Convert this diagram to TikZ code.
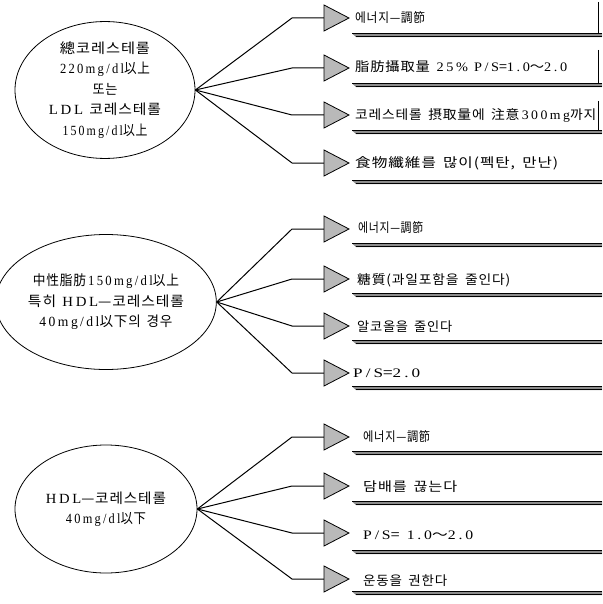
\documentclass[tikz,border=0pt]{standalone}
\usepackage{fontspec}
\usepackage{graphicx}
\setmainfont[LetterSpace=18]{Liberation Serif}
\newfontfamily\kr[LetterSpace=6]{Noto Sans CJK KR}
\usetikzlibrary{shapes.geometric}
\newcommand\gap{\hspace{6pt}}
\newcommand\fit[2]{\resizebox{#1pt}{\height}{#2}}
% #1 ellipse, #2 row name, #3 arrow y, #4 text x, #5 text y, #6 underline y, #7 width, #8 text
\newcommand\myrow[8]{%
  \coordinate (c#2) at (292,#3);
  \coordinate (a#2) at (324,#3);
  \draw[link] (#1.east) -- (c#2) -- (a#2);
  \draw[tri] (a#2) -- ++(0,-13) -- ++(25,13) -- ++(-25,13) -- cycle;
  \node[item] (t#2) at (#4,#5) {\fit{#7}{#8}};
  \fill[black!45] (352,#6-1.6) -- (602,#6-1.6) -- (602,#6+2.1) -- (356,#6+2.1) -- cycle;
  \draw[line width=0.5pt] (352,#6-1.6) -- (602,#6-1.6);
  \draw[line width=1.3pt] (355.5,#6+1.5) -- (602,#6+1.5);
}
\begin{document}
\begin{tikzpicture}[x=1pt,y=-1pt,
  bubble/.style={draw, ellipse, line width=0.8pt, inner sep=0pt, align=center,
    font=\fontsize{14}{20.5}\selectfont},
  item/.style={anchor=west, inner sep=0pt, font=\fontsize{13}{15}\selectfont},
  link/.style={line width=1pt, line join=round},
  tri/.style={draw, fill=gray!55, line width=0.8pt, line join=miter}]
\useasboundingbox (0,0) rectangle (602,604);
\fill[white] (0,0) rectangle (602,604);

% group 1
\node[bubble, minimum width=180pt, minimum height=130pt] (e1) at (105,90)
  {\fit{90}{\kr 總코레스테롤}\\
   \fit{90}{220mg/dl{\kr 以上}}\\
   \fit{25}{\kr 또는}\\
   \fit{112}{LDL\gap{\kr 코레스테롤}}\\
   \fit{85}{150mg/dl{\kr 以上}}};
\myrow{e1}{11}{18}{355}{18}{35}{70}{\kr 에너지—調節}
\myrow{e1}{12}{68}{355}{67}{85}{212}{{\kr 脂肪攝取量}\gap 25\% P/S{\kr =}1.0{\kr ～}2.0}
\myrow{e1}{13}{115}{355}{115}{132}{241}{{\kr 코레스테롤\gap 摂取量에\gap 注意}\,300mg{\kr 까지}}
\myrow{e1}{14}{163}{355}{163}{182}{203}{{\kr 食物纖維를\gap 많이(펙탄,\gap 만난)}}
\draw[line width=0.8pt] (598,2) -- (598,33.4);
\draw[line width=0.8pt] (598,50) -- (598,83.4);
\draw[line width=0.8pt] (598,101) -- (598,130.4);

% group 2
\node[bubble, minimum width=182pt, minimum height=135pt] (e2) at (106,302)
  {\fit{146}{{\kr 中性脂肪}\,150mg/dl{\kr 以上}}\\
   \fit{156}{{\kr 특히}\gap HDL{\kr —코레스테롤}}\\
   \fit{133}{40mg/dl{\kr 以下의\gap 경우}}};
\myrow{e2}{21}{229}{358}{228}{245}{65}{\kr 에너지—調節}
\myrow{e2}{22}{279}{357}{280}{295}{153}{{\kr 糖質(과일포함을\gap 줄인다)}}
\myrow{e2}{23}{326}{357}{327}{342}{95}{{\kr 알코올을\gap 줄인다}}
\myrow{e2}{24}{373}{353}{373}{388}{67}{P/S{\kr =}2.0}

% group 3
\node[bubble, minimum width=182pt, minimum height=128pt] (e3) at (106,509)
  {\fit{120}{HDL{\kr —코레스테롤}}\\
   \fit{80}{40mg/dl{\kr 以下}}};
\myrow{e3}{31}{437}{363}{437}{453}{67}{\kr 에너지—調節}
\myrow{e3}{32}{486}{363}{487}{503}{94}{{\kr 담배를\gap 끊는다}}
\myrow{e3}{33}{533}{363}{535}{552}{110}{P/S{\kr =}\gap 1.0{\kr ～}2.0}
\myrow{e3}{34}{579}{363}{581}{593}{84}{{\kr 운동을\gap 권한다}}
\end{tikzpicture}
\end{document}
